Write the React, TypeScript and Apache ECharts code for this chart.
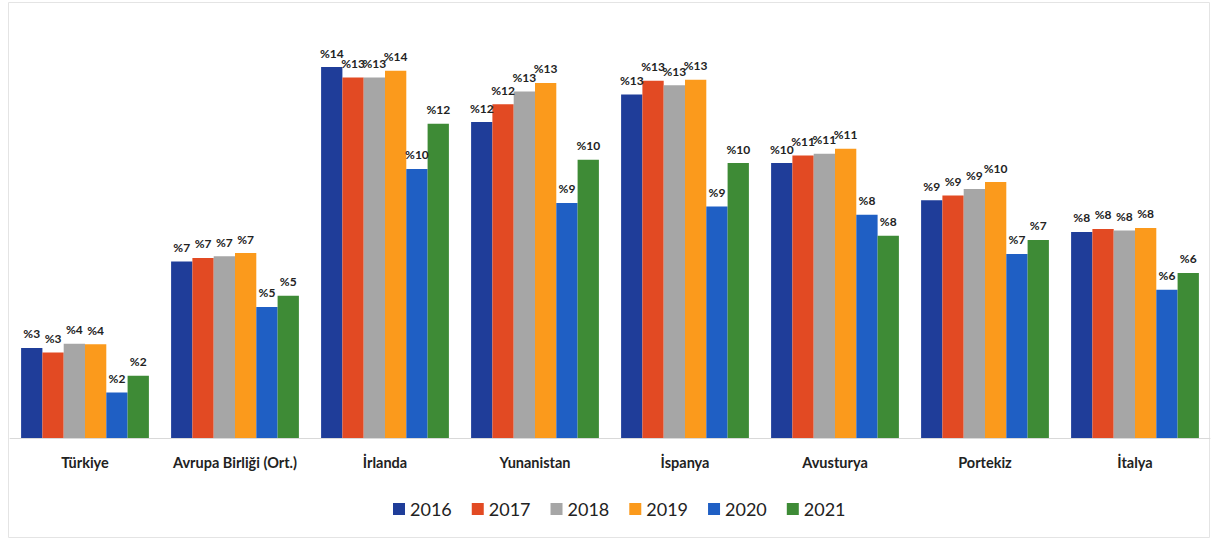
import React, { useEffect, useRef } from "react";
import * as echarts from "echarts";

const categories = ["Türkiye", "Avrupa Birliği (Ort.)", "İrlanda", "Yunanistan", "İspanya", "Avusturya", "Portekiz", "İtalya"];
const years = ["2016", "2017", "2018", "2019", "2020", "2021"];
const v2016 = [3.36, 6.59, 13.84, 11.79, 12.82, 10.26, 8.87, 7.69];
const v2017 = [3.19, 6.72, 13.45, 12.45, 13.33, 10.54, 9.05, 7.8];
const v2018 = [3.52, 6.78, 13.45, 12.93, 13.16, 10.61, 9.29, 7.74];
const v2019 = [3.5, 6.9, 13.7, 13.25, 13.37, 10.79, 9.55, 7.84];
const v2020 = [1.7, 4.89, 10.04, 8.77, 8.64, 8.33, 6.87, 5.53];
const v2021 = [2.32, 5.31, 11.73, 10.38, 10.26, 7.55, 7.39, 6.16];
const seriesValues = [v2016, v2017, v2018, v2019, v2020, v2021];
const colors = ["#1f3d99", "#e24a23", "#a6a6a6", "#fb9a1c", "#1f5fc4", "#3e8b36"];

export default function App() {
  const ref = useRef<HTMLDivElement>(null);
  useEffect(() => {
    if (!ref.current) return;
    const chart = echarts.init(ref.current, undefined, { renderer: "svg" });
    chart.setOption({
      animation: false,
      backgroundColor: "#ffffff",
      textStyle: { fontFamily: "Lato" },
      graphic: [
        {
          type: "rect",
          shape: { x: 8.5, y: 2.5, width: 1201, height: 535 },
          style: { fill: "none", stroke: "#e4e4e4", lineWidth: 1 },
          silent: true,
        },
      ],
      grid: { left: 10, right: 1, top: 36, bottom: 106, containLabel: false },
      legend: {
        data: years,
        left: 388,
        top: 495,
        itemWidth: 12,
        itemHeight: 12,
        itemGap: 20,
        icon: "rect",
        textStyle: { fontSize: 18, color: "#222", fontFamily: "Lato" },
      },
      xAxis: {
        type: "category",
        data: categories,
        axisLine: { lineStyle: { color: "#d9d9d9", width: 1 } },
        axisTick: { show: false },
        axisLabel: { interval: 0, fontSize: 14.5, fontWeight: "bold", color: "#222", margin: 17, fontFamily: "Lato" },
      },
      yAxis: {
        type: "value",
        min: 0,
        max: 15,
        show: false,
        splitLine: { show: false },
      },
      series: years.map((y, i) => ({
        name: y,
        type: "bar",
        data: seriesValues[i],
        barWidth: 21.3,
        barGap: "0%",
        itemStyle: { color: colors[i] },
        label: {
          show: true,
          position: "top",
          distance: 8,
          fontSize: 12,
          fontWeight: "bold",
          color: "#222",
          fontFamily: "Lato",
          formatter: (p: any) => "%" + Math.round(p.value),
        },
      })),
    });
    return () => chart.dispose();
  }, []);
  return <div ref={ref} style={{ position: "fixed", left: 0, top: 0, width: 1211, height: 544 }} />;
}
